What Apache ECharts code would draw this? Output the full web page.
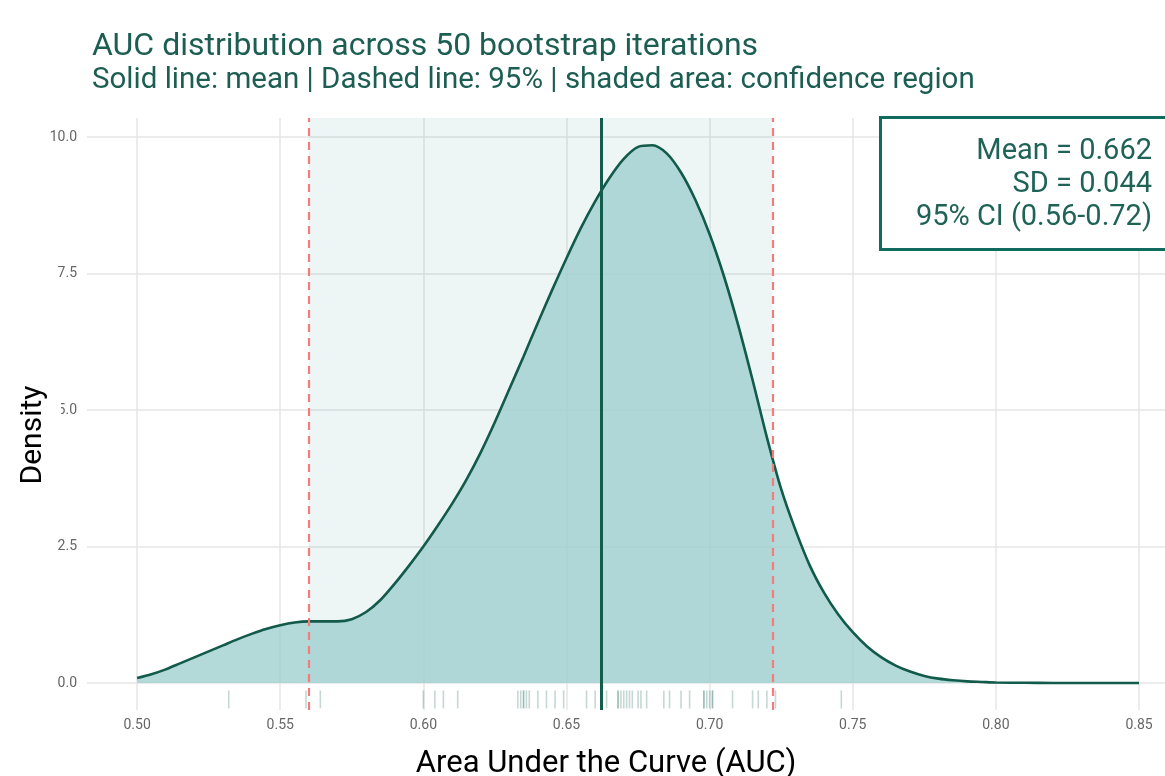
<!DOCTYPE html>
<html>
<head>
<meta charset="utf-8">
<script src="https://cdn.jsdelivr.net/npm/echarts@6/dist/echarts.min.js"></script>
<style>html,body{margin:0;padding:0;background:#fff}#c{width:1165px;height:776px}</style>
</head>
<body>
<div id="c"></div>
<script>
// ---- data ----
const aucGrid = [0.500,0.505,0.510,0.515,0.520,0.525,0.530,0.535,0.540,0.545,
  0.550,0.555,0.560,0.565,0.570,0.575,0.580,0.585,0.590,0.595,
  0.600,0.605,0.610,0.615,0.620,0.625,0.630,0.635,0.640,0.645,
  0.650,0.655,0.660,0.665,0.670,0.675,0.680,0.685,0.690,0.695,
  0.700,0.705,0.710,0.715,0.720,0.725,0.730,0.735,0.740,0.745,
  0.750,0.755,0.760,0.765,0.770,0.775,0.780,0.785,0.790,0.795,
  0.800,0.810,0.820,0.830,0.840,0.850];
const densityValues = [0.09,0.16,0.25,0.36,0.47,0.58,0.69,0.80,0.90,0.99,
  1.06,1.11,1.13,1.13,1.13,1.17,1.30,1.52,1.82,2.15,
  2.50,2.88,3.28,3.72,4.22,4.78,5.38,5.98,6.60,7.20,
  7.78,8.33,8.82,9.25,9.60,9.82,9.85,9.70,9.35,8.85,
  8.22,7.45,6.55,5.55,4.50,3.55,2.80,2.15,1.65,1.25,
  0.93,0.67,0.47,0.32,0.21,0.13,0.08,0.05,0.03,0.02,
  0.01,0.004,0.001,0,0,0];
const bootstrapAUC = [0.532,0.559,0.564,0.600,0.604,0.607,0.612,0.633,0.634,0.635,
  0.635,0.636,0.637,0.640,0.643,0.646,0.649,0.657,0.660,0.662,
  0.664,0.668,0.668,0.669,0.670,0.671,0.672,0.673,0.675,0.676,
  0.678,0.684,0.686,0.690,0.693,0.698,0.698,0.699,0.700,0.701,
  0.701,0.708,0.715,0.717,0.720,0.723,0.746];
const meanAUC = 0.662;
const ciLow = 0.560;
const ciHigh = 0.722;
const xTicks = [0.50,0.55,0.60,0.65,0.70,0.75,0.80,0.85];
const yTicks = [0,2.5,5,7.5,10];
const statsLines = ['Mean = 0.662','SD = 0.044','95% CI (0.56-0.72)'];
const titleText = 'AUC distribution across 50 bootstrap iterations';
const subtitleText = 'Solid line: mean | Dashed line: 95% | shaded area: confidence region';
const xName = 'Area Under the Curve (AUC)';
const yName = 'Density';

// ---- chart ----
const chart = echarts.init(document.getElementById('c'), null, {renderer:'canvas'});
const FONT = 'Roboto';
const densityData = aucGrid.map((x,i)=>[x, densityValues[i]]);
const rugData = bootstrapAUC.map(x=>[x, -0.3]);
const Y_MIN = -0.494, Y_MAX = 10.348;

chart.setOption({
  animation:false,
  backgroundColor:'#ffffff',
  title:[
    {text:titleText, left:92, top:31, padding:0, textStyle:{fontFamily:FONT, fontSize:32, fontWeight:'normal', color:'#1d5e53'}},
    {text:subtitleText, left:92, top:66, padding:0, textStyle:{fontFamily:FONT, fontSize:29.5, fontWeight:'normal', color:'#1d5e53'}}
  ],
  grid:{left:87, right:0, top:118, bottom:66},
  xAxis:{type:'value', min:0.4825, max:0.85907,
    axisLine:{show:false, onZero:false}, axisTick:{show:false, customValues:xTicks},
    axisLabel:{customValues:xTicks, fontFamily:FONT, fontSize:14, color:'#666', margin:8, formatter:v=>v.toFixed(2)},
    splitLine:{show:true, lineStyle:{color:'#e6e6e6', width:1.5}}},
  yAxis:{type:'value', min:Y_MIN, max:Y_MAX,
    axisLine:{show:false, onZero:false}, axisTick:{show:false, customValues:yTicks},
    axisLabel:{customValues:yTicks, fontFamily:FONT, fontSize:14, color:'#666', margin:10, formatter:v=>v.toFixed(1)},
    splitLine:{show:true, lineStyle:{color:'#e6e6e6', width:1.5}}},
  series:[
    {type:'scatter', data:[], z:1, silent:true,
     markArea:{silent:true, itemStyle:{color:'rgba(0,128,110,0.07)'},
       data:[[{xAxis:ciLow, yAxis:0},{xAxis:ciHigh, yAxis:Y_MAX}]]}
    },
    {type:'line', data:densityData, smooth:0.3, showSymbol:false, z:3,
     lineStyle:{color:'#125a4a', width:2.6},
     areaStyle:{color:'#a0d0d0', opacity:0.8}
    },
    {type:'scatter', data:rugData, symbol:'rect', symbolSize:[1.6,18], z:2, silent:true,
     itemStyle:{color:'rgba(30,105,90,0.32)'}},
    {type:'scatter', data:[], z:5, silent:true,
     markLine:{silent:true, symbol:'none', precision:6, label:{show:false},
       data:[
         {xAxis:ciLow, lineStyle:{color:'#f47c7c', width:2.2, type:[8,6]}},
         {xAxis:ciHigh, lineStyle:{color:'#f47c7c', width:2.2, type:[8,6]}},
         {xAxis:meanAUC, lineStyle:{color:'#135d4c', width:3, type:'solid'}}
       ]}
    }
  ],
  graphic:[
    {type:'rect', left:879, top:116, z:100, shape:{width:300, height:132},
     style:{fill:'#ffffff', stroke:'#0e6b5e', lineWidth:3}},
    {type:'text', z:101, x:1152, y:135, style:{text:statsLines.join('\n'), align:'right', verticalAlign:'top',
      font:'29px Roboto', lineHeight:33, fill:'#1f6357'}},
    {type:'text', z:50, x:606, y:764, style:{text:xName, align:'center', verticalAlign:'middle',
      font:'31px Roboto', fill:'#000'}},
    {type:'text', z:100, zlevel:1, x:33, y:435, rotation:Math.PI/2, style:{text:yName, align:'center', verticalAlign:'middle',
      font:'30px Roboto', fill:'#000', backgroundColor:'#fff', padding:[13,4]}}
  ]
});
</script>
</body>
</html>
